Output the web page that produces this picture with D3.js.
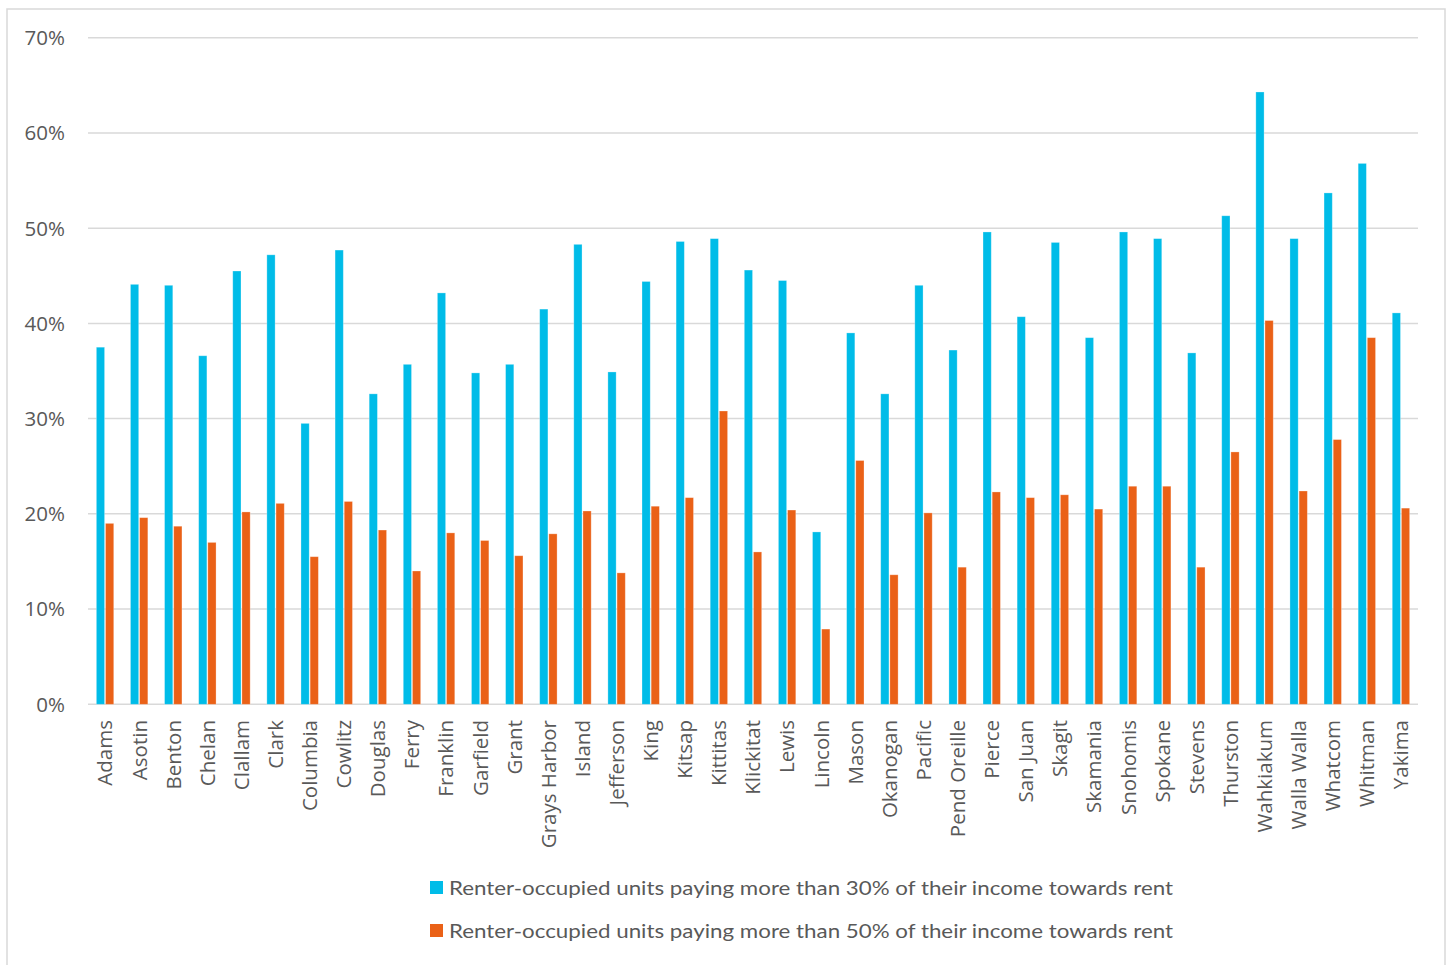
<!DOCTYPE html>
<html>
<head>
<meta charset="utf-8">
<script src="https://cdn.jsdelivr.net/npm/d3@7"></script>
<style>
  html, body { margin: 0; padding: 0; background: #ffffff; }
  svg { display: block; }
</style>
</head>
<body>
<svg id="chart" width="1453" height="965"></svg>
<script>
// Washington counties
const counties = ["Adams","Asotin","Benton","Chelan","Clallam","Clark","Columbia","Cowlitz","Douglas","Ferry",
  "Franklin","Garfield","Grant","Grays Harbor","Island","Jefferson","King","Kitsap","Kittitas","Klickitat",
  "Lewis","Lincoln","Mason","Okanogan","Pacific","Pend Oreille","Pierce","San Juan","Skagit","Skamania",
  "Snohomis","Spokane","Stevens","Thurston","Wahkiakum","Walla Walla","Whatcom","Whitman","Yakima"];

// Share of renter-occupied units paying more than 30% of income towards rent (%)
const over30 = [37.5,44.1,44.0,36.6,45.5,47.2,29.5,47.7,32.6,35.7,
  43.2,34.8,35.7,41.5,48.3,34.9,44.4,48.6,48.9,45.6,
  44.5,18.1,39.0,32.6,44.0,37.2,49.6,40.7,48.5,38.5,
  49.6,48.9,36.9,51.3,64.3,48.9,53.7,56.8,41.1];

// Share of renter-occupied units paying more than 50% of income towards rent (%)
const over50 = [19.0,19.6,18.7,17.0,20.2,21.1,15.5,21.3,18.3,14.0,
  18.0,17.2,15.6,17.9,20.3,13.8,20.8,21.7,30.8,16.0,
  20.4,7.9,25.6,13.6,20.1,14.4,22.3,21.7,22.0,20.5,
  22.9,22.9,14.4,26.5,40.3,22.4,27.8,38.5,20.6];

const seriesNames = [
  "Renter-occupied units paying more than 30% of their income towards rent",
  "Renter-occupied units paying more than 50% of their income towards rent"
];
const seriesColors = ["#00BCE8", "#EA6117"];
const yTicks = [0, 10, 20, 30, 40, 50, 60, 70];

const svg = d3.select("#chart");
const textColor = "#595959";
const gridColor = "#d9d9d9";

// outer frame
svg.append("rect")
  .attr("x", 7).attr("y", 9).attr("width", 1438).attr("height", 1000)
  .attr("fill", "none").attr("stroke", gridColor).attr("stroke-width", 1.5);

const plot = { left: 88, right: 1418, top: 37.7, bottom: 704.3 };

const x0 = d3.scaleBand()
  .domain(counties)
  .range([plot.left, plot.right])
  .paddingInner(0.49)
  .paddingOuter(0.245);

const x1 = d3.scaleBand()
  .domain([0, 1])
  .range([0, x0.bandwidth()])
  .paddingInner(0.1);

const y = d3.scaleLinear().domain([0, 70]).range([plot.bottom, plot.top]);

// gridlines
svg.append("g")
  .selectAll("line")
  .data(yTicks)
  .join("line")
  .attr("x1", plot.left).attr("x2", plot.right)
  .attr("y1", d => y(d)).attr("y2", d => y(d))
  .attr("stroke", gridColor).attr("stroke-width", 1.5);

// y tick labels
svg.append("g")
  .selectAll("text")
  .data(yTicks)
  .join("text")
  .attr("x", 65)
  .attr("y", d => y(d))
  .attr("dy", "0.36em")
  .attr("text-anchor", "end")
  .attr("font-family", "'Open Sans', sans-serif")
  .attr("font-size", 20.5)
  .attr("fill", textColor)
  .text(d => d + "%");

// bars
const rows = counties.map((c, i) => ({ county: c, values: [over30[i], over50[i]] }));
const groups = svg.append("g")
  .selectAll("g")
  .data(rows)
  .join("g")
  .attr("transform", d => `translate(${x0(d.county)},0)`);

groups.selectAll("rect")
  .data(d => d.values.map((v, k) => ({ k, v })))
  .join("rect")
  .attr("x", d => x1(d.k))
  .attr("width", x1.bandwidth())
  .attr("y", d => y(d.v))
  .attr("height", d => y(0) - y(d.v))
  .attr("fill", d => seriesColors[d.k])
  .attr("stroke", "#ffffff")
  .attr("stroke-opacity", 0.35)
  .attr("stroke-width", 0.8);

// category labels (rotated)
svg.append("g")
  .selectAll("text")
  .data(counties)
  .join("text")
  .attr("transform", d => `translate(${x0(d) + x0.bandwidth() / 2},720) rotate(-90)`)
  .attr("dy", "0.36em")
  .attr("text-anchor", "end")
  .attr("font-family", "'Open Sans', sans-serif")
  .attr("font-size", 20.5)
  .attr("fill", textColor)
  .text(d => d);

// legend
const legend = svg.append("g")
  .selectAll("g")
  .data(seriesNames)
  .join("g")
  .attr("transform", (d, i) => `translate(430,${881 + i * 43})`);

legend.append("rect")
  .attr("width", 13).attr("height", 13)
  .attr("fill", (d, i) => seriesColors[i]);

legend.append("text")
  .attr("x", 19)
  .attr("y", 13.5)
  .attr("font-family", "Lato, 'Open Sans', sans-serif")
  .attr("font-size", 19.5)
  .attr("fill", textColor)
  .text(d => d)
  .each(function () {
    const w = this.getComputedTextLength();
    if (Math.abs(w - 724) > 4) {
      d3.select(this).attr("textLength", 724).attr("lengthAdjust", "spacingAndGlyphs");
    }
  });
</script>
</body>
</html>
